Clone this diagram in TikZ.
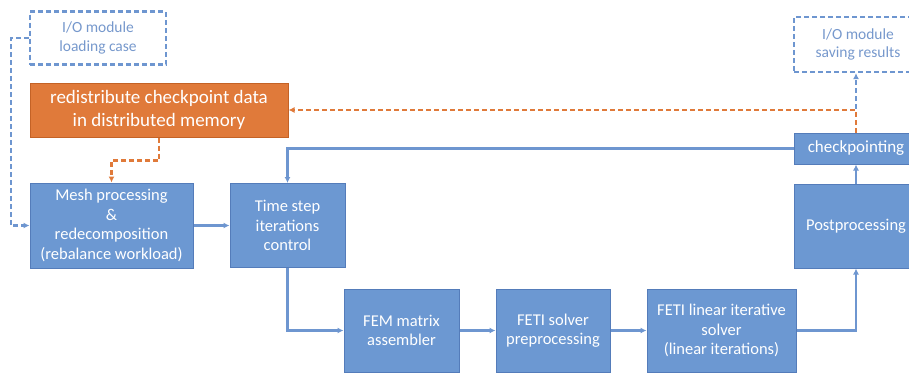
\documentclass[tikz,border=0pt]{standalone}
\usepackage{fontspec}
\setmainfont{Carlito}
\usetikzlibrary{arrows.meta,positioning}
\definecolor{boxblue}{RGB}{108,152,210}
\definecolor{edgeblue}{RGB}{84,124,186}
\definecolor{lineblue}{RGB}{110,150,208}
\definecolor{iotext}{RGB}{118,152,204}
\definecolor{orfill}{RGB}{224,122,58}
\definecolor{oredge}{RGB}{196,98,38}

\begin{document}
\begin{tikzpicture}[
    x=1pt, y=-1pt,
    node distance=36pt,
    every node/.style={font=\fontsize{16.5}{19.5}\selectfont},
    block/.style={draw=edgeblue, line width=1pt, fill=boxblue, text=white, align=center, inner sep=2pt, minimum height=84pt},
    iobox/.style={draw=lineblue, dash pattern=on 5pt off 3pt, line width=2.2pt, text=iotext, align=center, minimum height=53pt, font=\fontsize{15.5}{18.5}\selectfont},
    redistbox/.style={draw=oredge, line width=1pt, fill=orfill, text=white, align=center, minimum width=258pt, minimum height=54pt, font=\fontsize{19}{22.7}\selectfont},
    flow/.style={-{Latex[length=6pt,width=6pt]}, lineblue, line width=2.4pt},
    ioflow/.style={flow, dash pattern=on 5pt off 3pt},
    restart/.style={-{Latex[length=6pt,width=6pt]}, orfill, line width=2.4pt, dash pattern=on 5pt off 3pt}
]
\useasboundingbox (0,0) rectangle (909,373);
\node[iobox, minimum width=136pt] (loadio) at (98,38) {I/O module\\loading case};
\node[redistbox] (redist) at (159,110) {redistribute checkpoint data\\in distributed memory};
\node[block, minimum width=163pt, minimum height=85pt] (mesh) at (111.5,225.5) {Mesh processing\\\&\\redecomposition\\(rebalance workload)};
\node[block, minimum width=115pt, right=of mesh] (timestep) {Time step\\iterations\\control};
\node[block, minimum width=115pt, minimum height=83pt] (fem) at (401.5,330.5) {FEM matrix\\assembler};
\node[block, minimum width=114pt, minimum height=83pt, right=of fem] (fetipre) {FETI solver\\preprocessing};
\node[block, minimum width=149pt, minimum height=83pt, right=of fetipre] (fetilin) {FETI linear iterative\\solver\\(linear iterations)};
\node[block, minimum width=124pt] (post) at (856,226) {Postprocessing};
\node[block, minimum width=124pt, minimum height=31pt, font=\fontsize{17}{20}\selectfont] (checkpt) at (856,148.5) {checkpointing};
\node[iobox, minimum width=128pt, minimum height=55pt] (saveio) at (858,44.5) {I/O module\\saving results};

\draw[flow] (mesh) -- (timestep);
\draw[flow] (timestep.south) |- (fem.west);
\draw[flow] (fem) -- (fetipre);
\draw[flow] (fetipre) -- (fetilin);
\draw[flow] (fetilin.east) -| (post.south);
\draw[flow] (post) -- (checkpt);
\draw[flow] (checkpt.west) -| (timestep.north);
% restart path
\draw[ioflow] (loadio.west) -- ++(-18,0) |- (mesh.west);
\draw[ioflow] (checkpt.north) -- (checkpt.north |- saveio.south);
\draw[restart] (checkpt.north) |- (redist.east);
\draw[restart] (redist.south) -- ++(0,23) -| (mesh.north);
\end{tikzpicture}
\end{document}
